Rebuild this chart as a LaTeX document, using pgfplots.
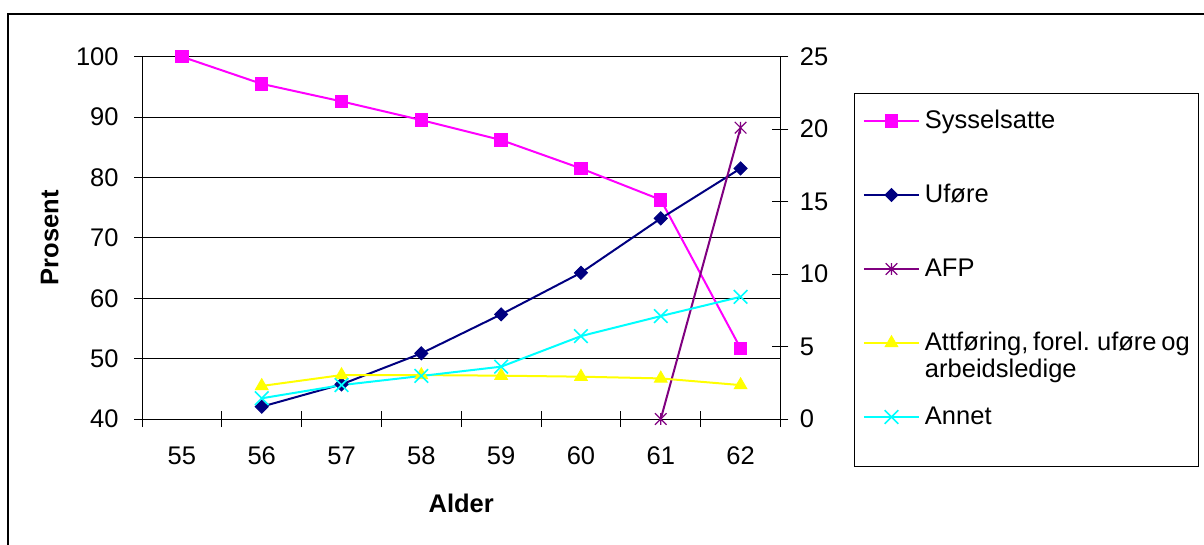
\documentclass[border=0pt]{standalone}
\usepackage{pgfplots}
\pgfplotsset{compat=1.18}
\usepackage{fontspec}
\setmainfont{Liberation Sans}
\definecolor{cSys}{RGB}{255,0,255}
\definecolor{cUf}{RGB}{0,0,128}
\definecolor{cAFP}{RGB}{128,0,128}
\definecolor{cAtt}{RGB}{255,255,0}
\definecolor{cAnn}{RGB}{0,255,255}
\pgfdeclareplotmark{xstar}{%
  \pgfpathmoveto{\pgfqpoint{0pt}{\pgfplotmarksize}}%
  \pgfpathlineto{\pgfqpoint{0pt}{-\pgfplotmarksize}}%
  \pgfpathmoveto{\pgfqpoint{-\pgfplotmarksize}{-\pgfplotmarksize}}%
  \pgfpathlineto{\pgfqpoint{\pgfplotmarksize}{\pgfplotmarksize}}%
  \pgfpathmoveto{\pgfqpoint{-\pgfplotmarksize}{\pgfplotmarksize}}%
  \pgfpathlineto{\pgfqpoint{\pgfplotmarksize}{-\pgfplotmarksize}}%
  \pgfusepathqstroke}
\begin{document}
\begin{tikzpicture}[font=\fontsize{12.75pt}{15.3pt}\selectfont]
\path[use as bounding box] (0,0) rectangle (602pt,-272.5pt);
\begin{scope}
\clip (0,0) rectangle (602pt,-272.5pt);
\draw[line width=0.6pt] (4pt,-7pt) rectangle (700pt,-400pt);
\draw[line width=0.5pt] (427pt,-47pt) rectangle (599.2pt,-233pt);
\end{scope}
\pgfplotsset{
 base/.style={
  at={(71pt,-209.5pt)}, anchor=south west,
  scale only axis, width=319.25pt, height=181.15pt,
  xmin=54.5, xmax=62.5,
  clip=false,
  /pgf/number format/assume math mode=true,
  tick align=center,
  major tick length=8pt,
  every tick/.style={black, line width=0.5pt},
  axis line style={black, line width=0.5pt},
 },
 every axis plot/.append style={line width=1pt},
}
\begin{axis}[base,
  ymin=40, ymax=100, ytick={40,50,...,100},
  axis x line*=bottom, axis y line*=left,
  xtick={54.5,55.5,56.5,57.5,58.5,59.5,60.5,61.5,62.5},
  x tick label as interval,
  xticklabels={55,56,57,58,59,60,61,62},
  ymajorgrids,
  major grid style={black, line width=0.5pt},
  xticklabel style={anchor=base, inner sep=0pt, yshift=-18.65pt},
  yticklabel style={anchor=east, inner sep=0pt, xshift=-7.5pt},
  xlabel={\textbf{Alder}},
  every axis x label/.style={at={([yshift=-46.85pt]axis description cs:0.5,0)}, anchor=base},
  ylabel={\textbf{Prosent}},
  every axis y label/.style={at={([xshift=-41.8pt]axis description cs:0,0.5)}, rotate=90, anchor=base},
]
\addplot[cSys, mark=square*, mark size=3.1pt, mark options={solid, fill=cSys, line width=0.5pt}]
 coordinates {(55,100) (56,95.5) (57,92.6) (58,89.5) (59,86.2) (60,81.5) (61,76.3) (62,51.7)};
\end{axis}
\begin{axis}[base,
  ymin=0, ymax=25, ytick={0,5,...,25},
  axis y line*=right, axis x line=none,
  yticklabel style={anchor=west, inner sep=0pt, xshift=5.5pt},
  legend cell align=left,
  legend image code/.code={\draw[mark repeat=2,mark phase=2,#1] plot coordinates {(0pt,0pt) (13.75pt,0pt) (27.5pt,0pt)};},
  legend style={draw=none, fill=none, at={(axis description cs:1.1292,0.8584)}, anchor=north west,
    inner sep=0pt, outer sep=0pt, row sep=24pt,
    nodes={inner sep=0pt, text height=10pt, text depth=3pt},
    /tikz/every odd column/.append style={column sep=2.5pt}},
]
\addlegendimage{cSys, line width=1pt, mark=square*, mark size=3.1pt, mark options={solid, fill=cSys, line width=0.5pt}}
\addlegendentry{Sysselsatte}
\addplot[cUf, mark=square*, mark size=2.3pt, mark options={solid, fill=cUf, rotate=45, line width=0.5pt}]
 coordinates {(56,0.85) (57,2.39) (58,4.53) (59,7.22) (60,10.09) (61,13.84) (62,17.29)};
\addlegendentry{Uføre}
\addplot[cAFP, mark=xstar, mark size=2.9pt, mark options={solid, line width=0.6pt}]
 coordinates {(61,0) (62,20.1)};
\addlegendentry{AFP}
\addplot[cAtt, mark=triangle*, mark size=3.6pt, mark options={solid, fill=cAtt, line width=0.5pt}]
 coordinates {(56,2.28) (57,3.03) (58,3.03) (59,2.99) (60,2.92) (61,2.8) (62,2.34)};
\addlegendentry{\spaceskip=2.4pt\begin{tabular}[t]{@{}l@{}}Attføring, forel. uføre og\\[-1.8pt]arbeidsledige\end{tabular}}
\addplot[cAnn, mark=x, mark size=4.8pt, mark options={solid, line width=0.8pt}]
 coordinates {(56,1.43) (57,2.34) (58,2.97) (59,3.61) (60,5.72) (61,7.1) (62,8.43)};
\addlegendentry{Annet}
\end{axis}
\end{tikzpicture}
\end{document}
